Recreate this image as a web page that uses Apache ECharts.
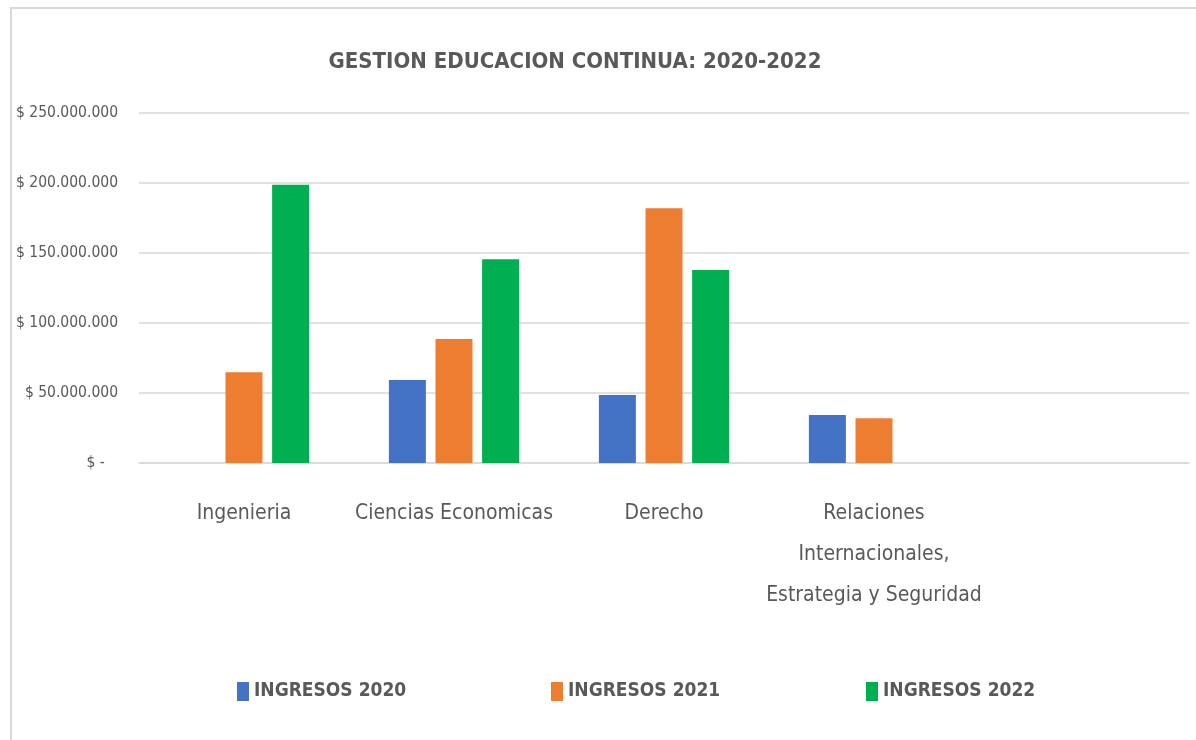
<!DOCTYPE html>
<html>
<head>
<meta charset="utf-8">
<script src="https://cdn.jsdelivr.net/npm/echarts@6/dist/echarts.min.js"></script>
<style>
  html, body { margin: 0; padding: 0; background: #ffffff; }
  #chart { width: 1196px; height: 740px; }
  #frame { position: absolute; left: 10px; top: 7px; width: 1300px; height: 800px;
           border-left: 2px solid #d9d9d9; border-top: 2px solid #d9d9d9; pointer-events: none; }
</style>
</head>
<body>
<div id="chart"></div>
<div id="frame"></div>
<script>
const categories = ['Ingenieria', 'Ciencias Economicas', 'Derecho', 'Relaciones\nInternacionales,\nEstrategia y Seguridad', ''];
const seriesNames = ['INGRESOS 2020', 'INGRESOS 2021', 'INGRESOS 2022'];
const ingresos2020 = [null, 59300000, 48600000, 34300000, null];
const ingresos2021 = [64800000, 88600000, 181900000, 31900000, null];
const ingresos2022 = [198800000, 145500000, 137900000, null, null];
const yTicks = [0, 50000000, 100000000, 150000000, 200000000, 250000000];

const FONT = "'DejaVu Sans Condensed', 'Liberation Sans Narrow', sans-serif";
const TXT = '#595959';
const colors = ['#4472C4', '#ED7D31', '#00B050'];
const values = [ingresos2020, ingresos2021, ingresos2022];

function money(v) {
  if (v === 0) return '$ -   ';
  return '$ ' + String(Math.round(v)).replace(/\B(?=(\d{3})+(?!\d))/g, '.');
}

const legendLefts = [237, 551, 866];
const chart = echarts.init(document.getElementById('chart'), null, { renderer: 'canvas' });
chart.setOption({
  animation: false,
  backgroundColor: '#ffffff',
  title: {
    text: 'GESTION EDUCACION CONTINUA: 2020-2022',
    left: 575, top: 51, textAlign: 'center', padding: 0,
    textStyle: { fontFamily: FONT, fontSize: 22, fontWeight: 'bold', color: TXT }
  },
  legend: seriesNames.map((n, i) => ({
    data: [n], left: legendLefts[i], top: 682, padding: 0,
    itemWidth: 12, itemHeight: 19, itemGap: 0, icon: 'rect',
    textStyle: { fontFamily: FONT, fontSize: 19, fontWeight: 'bold', color: TXT }
  })),
  grid: { left: 139, right: 7, top: 113, bottom: 277, containLabel: false, outerBoundsMode: 'none' },
  xAxis: {
    type: 'category', data: categories,
    axisLine: { show: true, lineStyle: { color: '#d9d9d9', width: 1.5 } },
    axisTick: { show: false },
    axisLabel: { interval: 0, margin: 30, fontFamily: FONT, fontSize: 21, lineHeight: 41, color: TXT, align: 'center' }
  },
  yAxis: {
    type: 'value', min: yTicks[0], max: yTicks[yTicks.length - 1], interval: yTicks[1] - yTicks[0],
    axisLine: { show: false }, axisTick: { show: false },
    splitLine: { lineStyle: { color: '#d9d9d9', width: 1.5 } },
    axisLabel: { margin: 21, fontFamily: FONT, fontSize: 15.5, color: TXT, formatter: money }
  },
  series: seriesNames.map((n, i) => ({
    name: n, type: 'bar', data: values[i],
    barWidth: 37, barGap: '26%',
    itemStyle: { color: colors[i] }
  }))
});
</script>
</body>
</html>
